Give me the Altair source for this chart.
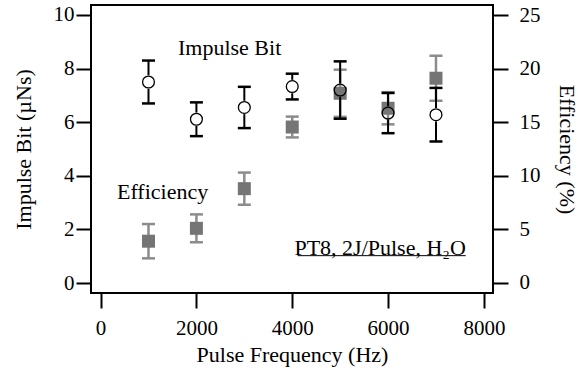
import altair as alt
import pandas as pd

freq = [1000, 2000, 3000, 4000, 5000, 6000, 7000]
impulse = [7.50, 6.11, 6.55, 7.33, 7.20, 6.34, 6.28]
impulse_err = [0.80, 0.63, 0.77, 0.48, 1.07, 0.75, 1.00]
eff = [3.9, 5.1, 8.8, 14.55, 17.7, 16.3, 19.1]
eff_err = [1.6, 1.3, 1.5, 0.97, 2.2, 1.5, 2.1]

FONT = "Liberation Serif"
GAP = 0.25  # gap in impulse units so error line stops at circle edge

df = pd.DataFrame({"f": freq, "ib": impulse, "ibe": impulse_err, "ef": eff, "efe": eff_err})

xs = alt.Scale(domain=[-200, 8190], nice=False, zero=False)
yl = alt.Scale(domain=[-0.373, 10.373], nice=False, zero=False)
yr = alt.Scale(domain=[-0.933, 25.933], nice=False, zero=False)

xax = alt.Axis(values=[0, 2000, 4000, 6000, 8000], title="Pulse Frequency (Hz)", format="d",
               labelPadding=9, titlePadding=6)
base = alt.Chart(df)

# Efficiency (right axis)
eax = alt.Axis(orient="right", values=[0, 5, 10, 15, 20, 25], title="Efficiency (%)",
               labelPadding=11, titlePadding=14, titleAngle=90)
e_rule = base.transform_calculate(lo="datum.ef - datum.efe", hi="datum.ef + datum.efe").mark_rule(
    color="#8c8c8c", strokeWidth=2.5).encode(
    x=alt.X("f:Q", scale=xs, axis=xax),
    y=alt.Y("lo:Q", scale=yr, axis=eax), y2="hi:Q")
cap_shape = "M-1,0L1,0"
e_cap_hi = base.transform_calculate(v="datum.ef + datum.efe").mark_point(
    shape=cap_shape, size=169, stroke="#8c8c8c", strokeWidth=2.5, filled=False, opacity=1).encode(
    x=alt.X("f:Q", scale=xs), y=alt.Y("v:Q", scale=yr))
e_cap_lo = base.transform_calculate(v="datum.ef - datum.efe").mark_point(
    shape=cap_shape, size=169, stroke="#8c8c8c", strokeWidth=2.5, filled=False, opacity=1).encode(
    x=alt.X("f:Q", scale=xs), y=alt.Y("v:Q", scale=yr))
e_pt = base.mark_square(size=169, color="#757575", opacity=1).encode(
    x=alt.X("f:Q", scale=xs), y=alt.Y("ef:Q", scale=yr))
eff_layer = alt.layer(e_rule, e_cap_hi, e_cap_lo, e_pt)

# Impulse bit (left axis)
iax = alt.Axis(orient="left", values=[0, 2, 4, 6, 8, 10], title="Impulse Bit (µNs)",
               labelPadding=2, titlePadding=18)
i_rule_hi = base.transform_calculate(a="datum.ib + " + str(GAP), b="datum.ib + datum.ibe").mark_rule(
    color="black", strokeWidth=2).encode(
    x=alt.X("f:Q", scale=xs, axis=xax),
    y=alt.Y("a:Q", scale=yl, axis=iax), y2="b:Q")
i_rule_lo = base.transform_calculate(a="datum.ib - " + str(GAP), b="datum.ib - datum.ibe").mark_rule(
    color="black", strokeWidth=2).encode(
    x=alt.X("f:Q", scale=xs), y=alt.Y("a:Q", scale=yl), y2="b:Q")
i_cap_hi = base.transform_calculate(v="datum.ib + datum.ibe").mark_point(
    shape=cap_shape, size=169, stroke="black", strokeWidth=2.5, filled=False, opacity=1).encode(
    x=alt.X("f:Q", scale=xs), y=alt.Y("v:Q", scale=yl))
i_cap_lo = base.transform_calculate(v="datum.ib - datum.ibe").mark_point(
    shape=cap_shape, size=169, stroke="black", strokeWidth=2.5, filled=False, opacity=1).encode(
    x=alt.X("f:Q", scale=xs), y=alt.Y("v:Q", scale=yl))
i_pt = base.mark_point(shape="circle", size=140, filled=False, stroke="black", strokeWidth=1.3,
                       opacity=1).encode(x=alt.X("f:Q", scale=xs), y=alt.Y("ib:Q", scale=yl))

ann = pd.DataFrame({"x": [2693, 1294, 5835], "y": [8.77, 3.4, 1.3],
                    "t": ["Impulse Bit", "Efficiency", "PT8, 2J/Pulse, H₂O"]})
ann_text = alt.Chart(ann).mark_text(font=FONT, fontSize=22, color="black").encode(
    x=alt.X("x:Q", scale=xs), y=alt.Y("y:Q", scale=yl), text="t:N")
ul = pd.DataFrame({"x": [4113], "x2": [7620], "y": [1.02]})
underline = alt.Chart(ul).mark_rule(color="black", strokeWidth=1).encode(
    x=alt.X("x:Q", scale=xs), x2="x2:Q", y=alt.Y("y:Q", scale=yl))

imp_layer = alt.layer(i_rule_hi, i_rule_lo, i_cap_hi, i_cap_lo, i_pt, ann_text, underline)

chart = alt.layer(eff_layer, imp_layer).resolve_scale(y="independent").properties(
    width=402, height=288,
    autosize=alt.AutoSizeParams(type="none"),
    padding={"left": 91, "top": 5, "right": 92, "bottom": 75},
    background="white",
).configure_view(stroke="black", strokeWidth=2).configure_axis(
    domain=False, ticks=True, tickColor="black", tickWidth=2, tickSize=15, grid=False,
    labelFont=FONT, labelFontSize=21, labelColor="black",
    titleFont=FONT, titleFontSize=22, titleColor="black", titleFontWeight="normal",
)

chart.save("out.html", embed_options={"renderer": "svg", "actions": False})
